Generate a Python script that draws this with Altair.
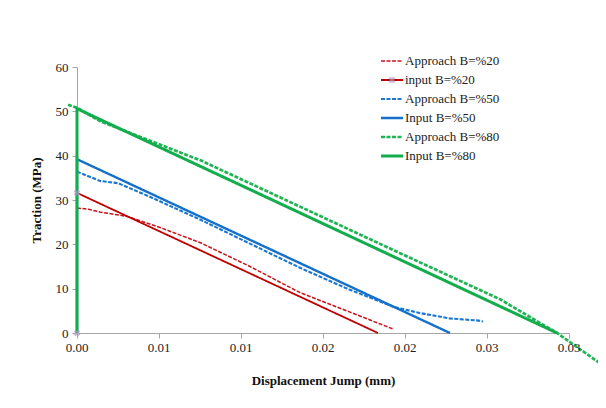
import altair as alt
import pandas as pd

series_names = ["Approach B=%20", "input B=%20", "Approach B=%50",
                "Input B=%50", "Approach B=%80", "Input B=%80"]
series_colors = ["#c8141c", "#c00000", "#1a78d2", "#1470c8", "#1fb454", "#12ad4c"]
series_dash = [[4, 1.5], [1, 0], [4, 1.5], [1, 0], [4, 1.5], [1, 0]]
series_width = [1.5, 3, 1.5, 3, 1.5, 3]

# Approach B=%20
a20_x = [0.0, 0.0007, 0.0014, 0.00305, 0.00506, 0.0075, 0.01055, 0.0136, 0.01665, 0.01927]
a20_y = [28.2, 27.9, 27.3, 26.3, 23.8, 20.4, 15.0, 9.1, 4.7, 0.9]
# input B=%20
i20_x = [0.0, 0.0, 0.01835]
i20_y = [0.0, 31.6, 0.0]
# Approach B=%50
a50_x = [0.0, 0.0014, 0.0025, 0.0044, 0.0075, 0.0136, 0.0166, 0.0193, 0.0209, 0.0227, 0.0245, 0.02476]
a50_y = [36.4, 34.3, 33.8, 30.8, 25.6, 14.7, 9.8, 5.9, 4.5, 3.3, 2.8, 2.6]
# Input B=%50
i50_x = [0.0, 0.0, 0.02274]
i50_y = [0.0, 39.2, 0.0]
# Approach B=%80
a80_x = [-0.00055, 0.0, 0.0014, 0.0075, 0.0136, 0.0197, 0.0258, 0.02927, 0.0323]
a80_y = [51.5, 50.8, 47.8, 39.0, 28.5, 18.0, 7.6, 0.0, -7.9]
# Input B=%80
i80_x = [0.0, 0.0, 0.02927]
i80_y = [0.0, 50.6, 0.0]

x_ticks = [0.0, 0.005, 0.01, 0.015, 0.02, 0.025, 0.03]
x_labels = ["0.00", "0.01", "0.01", "0.02", "0.02", "0.03", "0.03"]
y_ticks = [0, 10, 20, 30, 40, 50, 60]

rows = []
for name, xs, ys in zip(series_names,
                        [a20_x, i20_x, a50_x, i50_x, a80_x, i80_x],
                        [a20_y, i20_y, a50_y, i50_y, a80_y, i80_y]):
    for k, (xv, yv) in enumerate(zip(xs, ys)):
        rows.append({"series": name, "x": xv, "y": yv, "order": k})
df = pd.DataFrame(rows)
legend_df = pd.DataFrame({"series": series_names, "idx": list(range(len(series_names)))})
tick_df = pd.DataFrame({"x": x_ticks, "label": x_labels})

FONT = "Liberation Serif"

color_scale = alt.Scale(domain=series_names, range=series_colors)
dash_scale = alt.Scale(domain=series_names, range=series_dash)
width_scale = alt.Scale(domain=series_names, range=series_width)
xscale = alt.Scale(domain=[0, 0.03], nice=False, zero=False)

axis_style = dict(grid=False, domainColor="#a6a6a6", tickColor="#a6a6a6", tickSize=5,
                  labelFont=FONT, labelFontSize=13, labelColor="#222", labelPadding=4,
                  titleFont=FONT, titleFontSize=13, titleFontWeight="bold", titleColor="#111")

lines = alt.Chart(df).mark_line().encode(
    x=alt.X("x:Q", scale=xscale,
            axis=alt.Axis(values=x_ticks, labels=False, title="Displacement Jump (mm)",
                          titlePadding=36, **axis_style)),
    y=alt.Y("y:Q", scale=alt.Scale(domain=[0, 60], nice=False),
            axis=alt.Axis(values=y_ticks, title="Traction (MPa)", titlePadding=12, **axis_style)),
    color=alt.Color("series:N", scale=color_scale, legend=None),
    strokeDash=alt.StrokeDash("series:N", scale=dash_scale, legend=None),
    strokeWidth=alt.StrokeWidth("series:N", scale=width_scale, legend=None),
    order="order:Q",
)

# x tick labels drawn as text marks placed by the x scale
tick_text = alt.Chart(tick_df).mark_text(
    font=FONT, fontSize=13, color="#222", baseline="top"
).encode(
    x=alt.X("x:Q", scale=xscale),
    y=alt.value(275),
    text="label:N",
)

markers = alt.Chart(df).transform_filter(
    (alt.datum.series == "input B=%20") & (alt.datum.x == 0)
).mark_point(shape="cross", angle=45, size=45, filled=True, color="#a99cc4").encode(
    x="x:Q", y="y:Q"
)

# legend built from the series names
leg = alt.Chart(legend_df).transform_calculate(ypx="-6 + 19 * datum.idx")

leg_rules = leg.mark_rule().encode(
    x=alt.value(304), x2=alt.value(326),
    y=alt.Y("ypx:Q", scale=None, axis=None),
    color=alt.Color("series:N", scale=color_scale, legend=None),
    strokeDash=alt.StrokeDash("series:N", scale=dash_scale, legend=None),
    strokeWidth=alt.StrokeWidth("series:N", scale=width_scale, legend=None),
)

leg_marker = leg.transform_filter(alt.datum.series == "input B=%20").mark_point(
    shape="cross", angle=45, size=45, filled=True, color="#a99cc4"
).encode(x=alt.value(315), y=alt.Y("ypx:Q", scale=None, axis=None))

leg_text = leg.mark_text(font=FONT, fontSize=13, color="#222", align="left",
                         baseline="middle").encode(
    x=alt.value(328),
    y=alt.Y("ypx:Q", scale=None, axis=None),
    text="series:N",
)

chart = alt.layer(lines, markers, leg_rules, leg_marker, tick_text, leg_text).properties(
    width=492, height=266,
    autosize=alt.AutoSizeParams(type="none"),
    padding={"left": 69, "top": 59, "right": 29, "bottom": 67},
).configure_view(stroke=None)

chart.save("out.html", embed_options={"renderer": "svg", "actions": False})
